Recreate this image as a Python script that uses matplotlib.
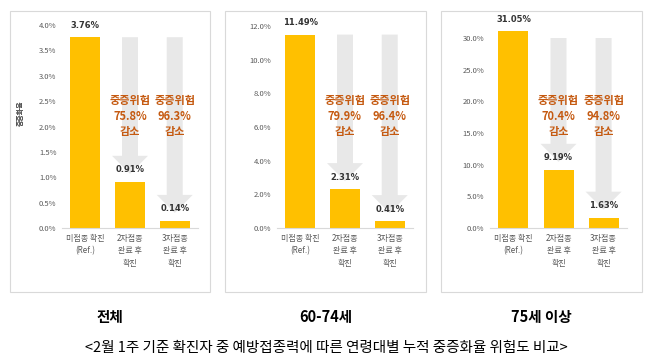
import matplotlib.pyplot as plt
import matplotlib.transforms as mtransforms
from matplotlib.patches import Polygon, Rectangle

plt.rcParams['font.family'] = ['Noto Sans CJK KR', 'DejaVu Sans']

# data
categories = ['미접종 확진\n(Ref.)', '2차접종\n완료 후\n확진', '3차접종\n완료 후\n확진']
titles = ['전체', '60-74세', '75세 이상']
rates = [[3.76, 0.91, 0.14],
         [11.49, 2.31, 0.41],
         [31.05, 9.19, 1.63]]
reductions = [[75.8, 96.3],
              [79.9, 96.4],
              [70.4, 94.8]]
yticks = [[0, 0.5, 1.0, 1.5, 2.0, 2.5, 3.0, 3.5, 4.0],
          [0, 2, 4, 6, 8, 10, 12],
          [0, 5, 10, 15, 20, 25, 30]]
caption = '<2월 1주 기준 확진자 중 예방접종력에 따른 연령대별 누적 중증화율 위험도 비교>'

W, H = 658, 358
fig = plt.figure(figsize=(W / 100, H / 100), dpi=100)

# panel geometry in pixels: (box left, box right, axes left, axes right, axes top)
panels = [(10, 210, 62, 198, 25),
          (225, 426, 277, 413, 26),
          (441, 642, 490, 627, 38)]
base_px = 228

bar_col = '#FFC000'
arrow_col = '#E8E8E8'
red = '#C55A11'
gray = '#595959'

for i, (bl, br, al, ar, at) in enumerate(panels):
    # light frame around each chart
    fig.patches.append(Rectangle((bl / W, 1 - 292 / H), (br - bl) / W, (292 - 11) / H,
                                 transform=fig.transFigure, fill=False,
                                 edgecolor='#D9D9D9', lw=0.8))
    ax = fig.add_axes([al / W, 1 - base_px / H, (ar - al) / W, (base_px - at) / H])
    ymax = yticks[i][-1]
    ax.set_ylim(0, ymax)
    ax.set_xlim(-0.52, 2.52)
    xpx = (ar - al) / 3.04          # pixels per x unit
    ypx = (base_px - at) / ymax     # pixels per y unit

    vals = rates[i]
    x = [0, 1, 2]

    # gray reduction arrows
    for j in (1, 2):
        top = vals[0]
        head_top = vals[j] + 26 / ypx
        tip = vals[j] + 8 / ypx
        sw = 8 / xpx
        hw = 18 / xpx
        pts = [(j - sw, top), (j + sw, top), (j + sw, head_top), (j + hw, head_top),
               (j, tip), (j - hw, head_top), (j - sw, head_top)]
        ax.add_patch(Polygon(pts, closed=True, facecolor=arrow_col, edgecolor='none', zorder=1))

    ax.bar(x, vals, width=30 / xpx, color=bar_col, zorder=2, clip_on=False)

    for j, v in enumerate(vals):
        ax.text(j, v + 12 / ypx, f'{v:.2f}%', ha='center', va='center',
                fontsize=6, fontweight='bold', color='#333333', zorder=4,
                family=['DejaVu Sans'])

    trans = mtransforms.blended_transform_factory(ax.transData, fig.transFigure)
    for k, r in enumerate(reductions[i]):
        ax.text(k + 1, 1 - 116 / H, f'중증위험\n{r}%\n감소', transform=trans,
                ha='center', va='center', fontsize=8, fontweight='bold',
                color=red, linespacing=1.25, zorder=5)

    ax.set_yticks(yticks[i])
    ax.set_yticklabels([f'{t:.1f}%' for t in yticks[i]], fontsize=5.5, color=gray)
    ax.set_xticks(x)
    ax.set_xticklabels(categories, fontsize=5.8, color=gray, linespacing=1.55, va='top')
    ax.tick_params(length=0, pad=4)
    for s in ['top', 'right', 'left']:
        ax.spines[s].set_visible(False)
    ax.spines['bottom'].set_color('#D9D9D9')
    ax.spines['bottom'].set_linewidth(0.8)
    ax.set_ylabel('중증화율', fontsize=5, color=gray)
    ax.yaxis.set_label_coords((25 - al) / (ar - al), (base_px - 113) / (base_px - at))

    fig.text(((bl + br) / 2) / W, 1 - 317 / H, titles[i], ha='center', va='center',
             fontsize=10.5, fontweight='bold', color='black')

fig.text(326 / W, 1 - 348 / H, caption, ha='center', va='center', fontsize=10.5, color='black')

fig.savefig('out.png', dpi=100, facecolor='white')
